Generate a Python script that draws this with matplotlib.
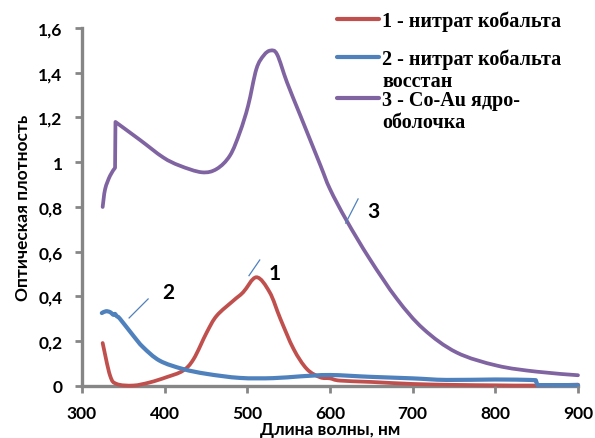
import matplotlib
matplotlib.use("Agg")
import matplotlib.pyplot as plt
from matplotlib.lines import Line2D
from matplotlib.path import Path
from matplotlib.patches import PathPatch

# 1 - нитрат кобальта
wl1 = [325, 334, 342, 362, 382, 402, 422, 435, 451, 463, 483, 495, 511, 527, 540,
       556, 572, 588, 600, 612, 650, 700, 750, 800, 846, 900]
od1 = [0.192, 0.046, 0.009, 0.002, 0.016, 0.039, 0.068, 0.12, 0.24, 0.314, 0.381,
       0.419, 0.486, 0.419, 0.30, 0.165, 0.076, 0.039, 0.034, 0.024, 0.018, 0.009,
       0.005, 0.003, 0.002, 0.006]

# 2 - нитрат кобальта восстан
wl2 = [324, 329, 334, 338, 340, 342, 346, 362, 374, 394, 422, 451, 491, 531, 564,
       600, 648, 700, 741, 800, 842, 849, 851, 900]
od2 = [0.326, 0.334, 0.33, 0.318, 0.322, 0.312, 0.30, 0.225, 0.173, 0.113, 0.076,
       0.054, 0.036, 0.035, 0.043, 0.049, 0.041, 0.034, 0.027, 0.029, 0.027, 0.025,
       0.004, 0.004]

# 3 - Co-Au ядро-оболочка
wl3 = [325, 328, 334, 340, 340.5, 370, 398, 418, 445, 463, 479, 491, 501, 511, 520,
       528, 536, 548, 564, 588, 600, 620, 648, 681, 713, 753, 802, 850, 900]
od3 = [0.80, 0.88, 0.94, 0.975, 1.18, 1.10, 1.022, 0.985, 0.955, 0.97, 1.03,
       1.134, 1.253, 1.417, 1.478, 1.499, 1.482, 1.357, 1.21, 0.99, 0.88, 0.74,
       0.568, 0.389, 0.255, 0.15, 0.091, 0.064, 0.048]

# index where a straight jump replaces smoothing
breaks1 = []
breaks2 = [22]
breaks3 = [4]

xticks = [300, 400, 500, 600, 700, 800, 900]
yticks = [0, 0.2, 0.4, 0.6, 0.8, 1.0, 1.2, 1.4, 1.6]
ytick_labels = ["0", "0,2", "0,4", "0,6", "0,8", "1", "1,2", "1,4", "1,6"]

labels = ["1 - нитрат кобальта", "2 - нитрат кобальта\nвосстан", "3 - Co-Au ядро-\nоболочка"]
colors = ["#C0504D", "#4F81BD", "#8064A2"]


def smooth_path(xs, ys, breaks):
    """Catmull-Rom style smoothed line as cubic Bezier path, straight at breaks."""
    pts = list(zip(xs, ys))
    pieces, start = [], 0
    for b in breaks + [len(pts)]:
        pieces.append(pts[start:b])
        start = b
    verts, codes = [], []
    for k, p in enumerate(pieces):
        verts.append(p[0])
        codes.append(Path.MOVETO if k == 0 else Path.LINETO)
        n = len(p)
        for i in range(n - 1):
            p0 = p[i - 1] if i > 0 else p[i]
            p1, p2 = p[i], p[i + 1]
            p3 = p[i + 2] if i + 2 < n else p[i + 1]
            c1 = (p1[0] + (p2[0] - p0[0]) / 6, p1[1] + (p2[1] - p0[1]) / 6)
            c2 = (p2[0] - (p3[0] - p1[0]) / 6, p2[1] - (p3[1] - p1[1]) / 6)
            verts += [c1, c2, p2]
            codes += [Path.CURVE4] * 3
    return Path(verts, codes)


fig = plt.figure(figsize=(5.95, 4.39), dpi=100)
ax = fig.add_axes([0.1378, 0.1185, 0.8336, 0.8155])

for xs, ys, br, col, lw in [(wl1, od1, breaks1, colors[0], 2.7),
                            (wl2, od2, breaks2, colors[1], 3.0),
                            (wl3, od3, breaks3, colors[2], 2.7)]:
    ax.add_patch(PathPatch(smooth_path(xs, ys, br), fill=False, edgecolor=col, lw=lw,
                           capstyle="round", joinstyle="round", clip_on=False))

ax.set_xlim(300, 900)
ax.set_ylim(0, 1.6)
ax.set_xticks(xticks)
ax.set_yticks(yticks)
ax.set_yticklabels(ytick_labels)

for s in ["top", "right"]:
    ax.spines[s].set_visible(False)
for s in ["left", "bottom"]:
    ax.spines[s].set_color("#868686")
    ax.spines[s].set_linewidth(2.4)
    ax.spines[s].set_zorder(0.5)
ax.tick_params(direction="out", length=5, width=2, color="#868686", pad=9)
for t in ax.get_xticklabels() + ax.get_yticklabels():
    t.set_fontfamily("Lato")
    t.set_fontweight("bold")
    t.set_fontsize(12.5)

ax.set_xlabel("Длина волны, нм", fontfamily="Lato", fontweight="bold", fontsize=12.5, labelpad=0)
ax.set_ylabel("Оптическая плотность", fontfamily="Lato", fontweight="bold", fontsize=12.5, labelpad=5)

# curve numbers with thin leader lines
marks = [("1", (502, 0.493), (515, 0.563), (533.5, 0.506)),
         ("2", (357, 0.304), (380, 0.389), (404.4, 0.421)),
         ("3", (619, 0.728), (634, 0.836), (652.8, 0.783))]
for txt, p0, p1, pt in marks:
    ax.plot([p0[0], p1[0]], [p0[1], p1[1]], color="#4F81BD", lw=0.9)
    ax.text(pt[0], pt[1], txt, fontfamily="Lato", fontweight="bold", fontsize=15,
            ha="center", va="center")

# legend drawn by hand in figure pixels
W, H = 595, 439
leg_y = [20, 58, 99]
for lab, col, y in zip(labels, colors, leg_y):
    fig.add_artist(Line2D([337 / W, 379 / W], [1 - y / H, 1 - y / H],
                          color=col, lw=3, solid_capstyle="round"))
    for k, line in enumerate(lab.split("\n")):
        fig.text(382 / W, 1 - (y + 7 + 22 * k) / H, line, fontfamily="Liberation Serif",
                 fontweight="bold", fontsize=14.5, ha="left", va="baseline")

fig.savefig("out.png", dpi=100)
